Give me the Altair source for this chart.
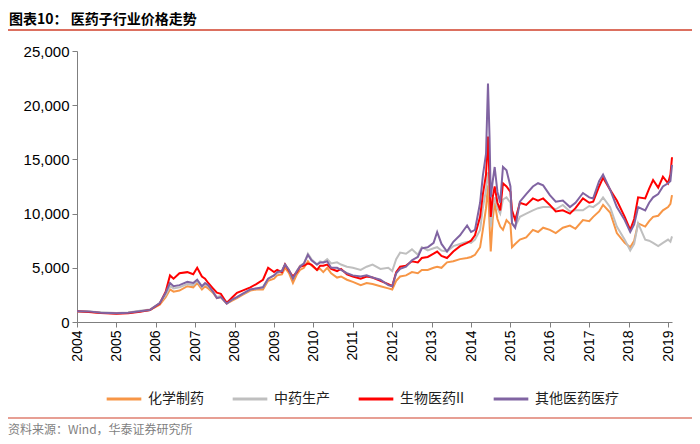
import altair as alt
import pandas as pd

years = [2004.0, 2004.3, 2004.6, 2005.0, 2005.3, 2005.6, 2005.85, 2006.1, 2006.25, 2006.36,
         2006.45, 2006.6, 2006.8, 2006.95, 2007.05, 2007.17, 2007.25, 2007.33, 2007.45, 2007.55,
         2007.65, 2007.8, 2007.95, 2008.06, 2008.2, 2008.4, 2008.55, 2008.72, 2008.85, 2009.0,
         2009.08, 2009.2, 2009.28, 2009.38, 2009.48, 2009.58, 2009.66, 2009.76, 2009.86, 2009.95,
         2010.09, 2010.17, 2010.25, 2010.35, 2010.45, 2010.6, 2010.7, 2010.85, 2011.0, 2011.2,
         2011.35, 2011.5, 2011.7, 2011.9, 2012.0, 2012.1, 2012.2, 2012.35, 2012.5, 2012.65,
         2012.75, 2012.9, 2013.05, 2013.14, 2013.25, 2013.39, 2013.55, 2013.72, 2013.9, 2014.0,
         2014.1, 2014.23, 2014.3, 2014.38, 2014.43, 2014.47, 2014.5, 2014.55, 2014.6, 2014.67,
         2014.74, 2014.81, 2014.9, 2015.0, 2015.04, 2015.12, 2015.24, 2015.4, 2015.57, 2015.7,
         2015.83, 2016.0, 2016.15, 2016.33, 2016.51, 2016.65, 2016.84, 2017.0, 2017.1, 2017.25,
         2017.35, 2017.53, 2017.7, 2017.9, 2018.04, 2018.14, 2018.24, 2018.42, 2018.52, 2018.62,
         2018.75, 2018.87, 2019.0, 2019.06, 2019.1]

# 化学制药
chem = [1000, 950, 850, 800, 850, 1000, 1100, 1600, 2300, 3000,
        2800, 2900, 3300, 3200, 3600, 3000, 3300, 3100, 2700, 2200,
        2300, 1700, 2000, 2200, 2500, 2900, 3000, 3000, 3800, 4000,
        4300, 4400, 5000, 4500, 3600, 4400, 4800, 5000, 5600, 5200,
        4800, 4900, 4600, 5000, 4500, 4100, 4200, 3900, 3700, 3400,
        3600, 3500, 3300, 3100, 3000, 3800, 4200, 4300, 4600, 4500,
        4800, 4800, 5000, 5100, 5000, 5500, 5600, 5800, 5900, 6000,
        6200, 6900, 8500, 10500, 12600, 9000, 6500, 9500, 11000, 9500,
        8800, 8500, 9400, 9000, 6900, 7200, 7600, 7800, 8500, 8300,
        8700, 8500, 8200, 8700, 8900, 8600, 9400, 9300, 9700, 10200,
        10800, 10100, 8200, 7300, 6900, 7500, 9100, 8800, 9300, 9700,
        9800, 10300, 10600, 10900, 11700]

# 中药生产
tcm = [1000, 970, 900, 820, 880, 1050, 1150, 1750, 2500, 3300,
       3100, 3200, 3500, 3400, 3800, 3200, 3500, 3300, 2800, 2300,
       2400, 1800, 2100, 2300, 2600, 3000, 3100, 3200, 4000, 4300,
       4500, 4700, 5300, 4800, 4100, 4700, 5200, 5400, 6300, 5800,
       5300, 5600, 5500, 5800, 5400, 5500, 5300, 5100, 5000, 4800,
       5100, 5300, 4900, 5000, 4700, 5800, 6400, 6300, 6700, 6200,
       6900, 6600, 6800, 6900, 6600, 6500, 7000, 7200, 7400, 7300,
       7600, 8500, 10500, 12200, 13800, 12000, 8800, 10500, 11500, 10500,
       10000, 11300, 11500, 11000, 9100, 8800, 9700, 10000, 10300, 10500,
       10600, 10600, 10400, 10800, 10200, 10300, 10300, 10700, 10600, 11000,
       11500, 10600, 8800, 7600, 6600, 7200, 9100, 7600, 7500, 7300,
       7000, 7300, 7600, 7400, 7900]

# 生物医药II
bio = [1000, 930, 820, 750, 800, 950, 1100, 1700, 2800, 4300,
       4000, 4500, 4600, 4400, 5000, 4200, 4000, 3600, 3100, 2700,
       2600, 1750, 2300, 2700, 2900, 3200, 3500, 3900, 5000, 4600,
       4800, 4600, 5300, 4700, 4200, 4600, 5100, 5200, 5400, 5300,
       4800, 5200, 5200, 5300, 4900, 4700, 4900, 4400, 4200, 4000,
       4200, 4100, 3800, 3500, 3300, 4600, 5100, 5200, 5600, 5500,
       5900, 6000, 6300, 6500, 6100, 5900, 6500, 7000, 7300, 7500,
       8000, 9700, 11800, 13600, 17100, 13000, 9700, 11500, 12500, 11000,
       10300, 12800, 12500, 12000, 10300, 9400, 11000, 10800, 11400, 11200,
       11400, 10800, 10200, 10300, 10000, 10500, 11400, 11000, 11100, 12500,
       13300, 12200, 11200, 9700, 8500, 9500, 11500, 11400, 12300, 13100,
       12400, 13400, 12800, 13600, 15200]

# 其他医药医疗
other = [1000, 980, 850, 800, 850, 1000, 1100, 1750, 2700, 3600,
         3300, 3400, 3700, 3600, 3900, 3300, 3600, 3400, 2800, 2200,
         2300, 1700, 2100, 2300, 2600, 3000, 3100, 3200, 4000, 4300,
         4600, 4700, 5300, 4800, 4000, 4700, 5100, 5400, 6200, 5700,
         5300, 5500, 5500, 5600, 5000, 5000, 4800, 4500, 4300, 4200,
         4300, 4100, 3900, 3400, 3300, 4500, 4900, 5100, 5700, 6000,
         6800, 6900, 7300, 8300, 7200, 6500, 7400, 8000, 8900, 8300,
         8500, 11000, 13500, 15500, 22000, 17000, 11500, 13000, 14300, 12000,
         11000, 14300, 14000, 12500, 9100, 8700, 11100, 11800, 12500, 12800,
         12600, 11700, 11100, 11200, 10600, 11000, 11900, 11500, 11400, 13000,
         13600, 12200, 10600, 9400, 8300, 9000, 10600, 10300, 11000, 11500,
         11800, 12500, 12800, 13000, 14500]

series_names = ["化学制药", "中药生产", "生物医药II", "其他医药医疗"]
series_colors = ["#F79646", "#BFBFBF", "#FF0000", "#8064A2"]
series_values = [chem, tcm, bio, other]

x_ticks = list(range(2004, 2020))
y_ticks = [0, 5000, 10000, 15000, 20000, 25000]

title_text = "图表10：  医药子行业价格走势"
source_text = "资料来源：Wind，华泰证券研究所"

rows = []
for name, vals in zip(series_names, series_values):
    for yr, v in zip(years, vals):
        rows.append({"year": yr, "value": v, "series": name})
df = pd.DataFrame(rows)

W, H = 595, 271
PAD_L, PAD_T, PAD_R, PAD_B = 69, 43, 20, 114

x_enc = alt.X("year:Q",
              scale=alt.Scale(domain=[2004, 2019.1], nice=False, zero=False),
              axis=alt.Axis(values=x_ticks, format="d", labelAngle=270, title=None,
                            grid=False, domainColor="#7F7F7F", tickColor="#7F7F7F",
                            tickSize=5, labelFont="Liberation Sans", labelFontSize=14,
                            labelColor="#000000", labelPadding=3, labelFlush=False,
                            labelOverlap=False))
y_enc = alt.Y("value:Q",
              scale=alt.Scale(domain=[0, 25000], nice=False),
              axis=alt.Axis(values=y_ticks, format=",d", title=None, grid=False,
                            domainColor="#7F7F7F", tickColor="#7F7F7F", tickSize=5,
                            labelFont="Liberation Sans", labelFontSize=15,
                            labelColor="#000000", labelPadding=3))
color_enc = alt.Color("series:N",
                      scale=alt.Scale(domain=series_names, range=series_colors),
                      legend=alt.Legend(title=None, orient="none", direction="horizontal",
                                        legendX=28, legendY=329,
                                        symbolType="stroke", symbolSize=1200,
                                        symbolStrokeWidth=3, labelFont="Noto Sans CJK SC",
                                        labelFontSize=14, labelColor="#222222",
                                        labelOffset=5, columnPadding=22, padding=0))

base = alt.Chart(df)
line_layers = [
    base.transform_filter(alt.datum.series == name)
        .mark_line(strokeWidth=2)
        .encode(x=x_enc, y=y_enc, color=color_enc)
    for name in series_names
]

title_layer = alt.Chart(pd.DataFrame({"t": [title_text]})).mark_text(
    align="left", baseline="middle", font="Noto Sans CJK SC", fontSize=14,
    fontWeight="bold", color="#000000"
).encode(text="t:N", x=alt.value(-68), y=alt.value(-31))

top_rule = alt.Chart(pd.DataFrame({"a": [0]})).mark_rule(
    color="#D0402B", strokeWidth=1.5
).encode(x=alt.value(-69), x2=alt.value(615), y=alt.value(-21))

bottom_rule = alt.Chart(pd.DataFrame({"a": [0]})).mark_rule(
    color="#D0402B", strokeWidth=1.2
).encode(x=alt.value(-69), x2=alt.value(615), y=alt.value(367))

source_layer = alt.Chart(pd.DataFrame({"t": [source_text]})).mark_text(
    align="left", baseline="middle", font="Noto Sans CJK SC", fontSize=12,
    color="#7F7F7F"
).encode(text="t:N", x=alt.value(-69), y=alt.value(379))

chart = alt.layer(
    *line_layers, title_layer, top_rule, bottom_rule, source_layer
).properties(
    width=W, height=H,
    autosize=alt.AutoSizeParams(type="none"),
    padding={"left": PAD_L, "top": PAD_T, "right": PAD_R, "bottom": PAD_B},
    background="white"
).configure_view(stroke=None)

chart.save("out.html", embed_options={"renderer": "svg", "actions": False})
